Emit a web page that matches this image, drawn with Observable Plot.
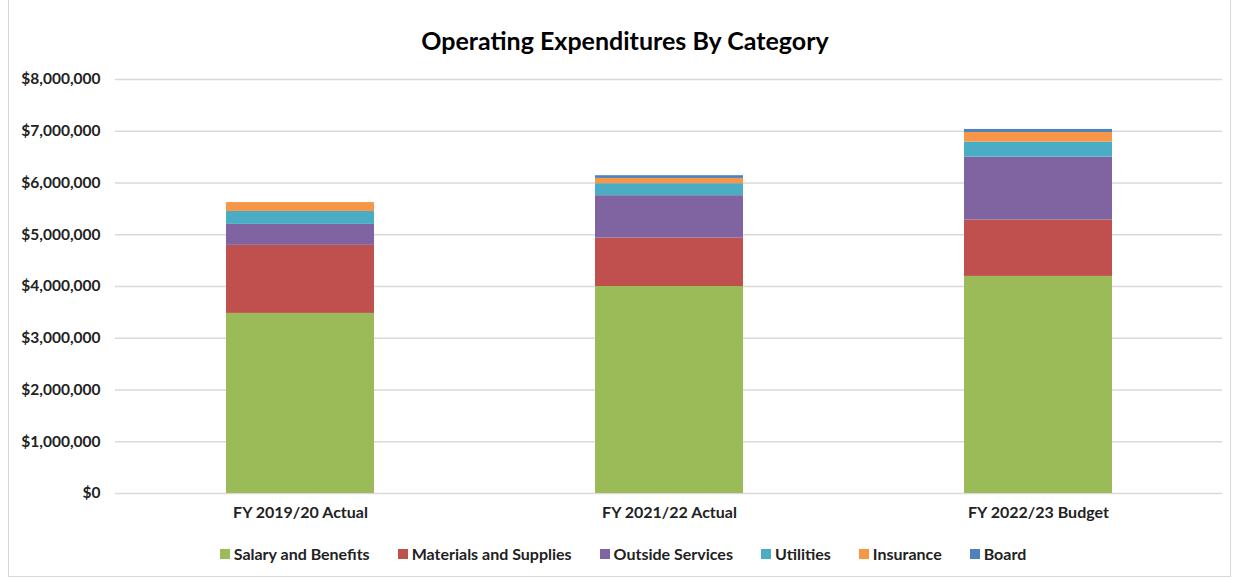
<!DOCTYPE html>
<html>
<head>
<meta charset="utf-8">
<script src="https://cdn.jsdelivr.net/npm/d3@7"></script>
<script src="https://cdn.jsdelivr.net/npm/@observablehq/plot@0.6"></script>
<style>
  html, body { margin: 0; padding: 0; background: #fff; }
  body { width: 1238px; height: 579px; position: relative; overflow: hidden; font-family: Lato, "Open Sans", sans-serif; }
  #frame { position: absolute; left: 8px; top: -1px; width: 1223px; height: 578px; border: 1px solid #d9d9d9; box-sizing: border-box; }
  #title { position: absolute; left: 0; width: 1250px; top: 23px; text-align: center; font-size: 25px; font-weight: bold; color: #000; line-height: 34px; }
  #chart { position: absolute; left: 0; top: 60px; }
  #legend { position: absolute; left: 0; width: 1246px; top: 544px; display: flex; justify-content: center; gap: 28px; font-size: 16px; font-weight: bold; color: #222; }
  #legend span.item { display: flex; align-items: center; }
  #legend span.sw { display: inline-block; width: 10px; height: 10px; margin-right: 4px; }
  svg text { font-family: Lato, "Open Sans", sans-serif; }
</style>
</head>
<body>
<div id="frame"></div>
<div id="title">Operating Expenditures By Category</div>
<div id="chart"></div>
<div id="legend"></div>
<script>
const categories = ["FY 2019/20 Actual", "FY 2021/22 Actual", "FY 2022/23 Budget"];
const seriesNames = ["Salary and Benefits", "Materials and Supplies", "Outside Services", "Utilities", "Insurance", "Board"];
const seriesColors = ["#9BBB59", "#C0504D", "#8064A2", "#4BACC6", "#F79646", "#4F81BD"];
const salaryAndBenefits = [3480000, 4000000, 4195000];
const materialsAndSupplies = [1315000, 935000, 1090000];
const outsideServices = [405000, 820000, 1215000];
const utilities = [250000, 232000, 290000];
const insurance = [172000, 102000, 187000];
const board = [0, 52000, 58000];
const yTicks = [0, 1000000, 2000000, 3000000, 4000000, 5000000, 6000000, 7000000, 8000000];

const seriesValues = [salaryAndBenefits, materialsAndSupplies, outsideServices, utilities, insurance, board];
const data = [];
seriesNames.forEach((s, i) => {
  categories.forEach((c, j) => {
    data.push({category: c, series: s, value: seriesValues[i][j]});
  });
});

const chart = Plot.plot({
  width: 1238,
  height: 470,
  marginLeft: 115,
  marginRight: 16,
  marginTop: 19,
  marginBottom: 37,
  style: {fontSize: "16px", fontWeight: "bold", color: "#222", background: "transparent"},
  x: {domain: categories, paddingInner: 0.6, paddingOuter: 0.3, label: null, tickSize: 0, tickPadding: 13},
  y: {domain: [0, 8000000], ticks: yTicks, tickFormat: d3.format("$,"), label: null, tickSize: 0, tickPadding: 15},
  color: {domain: seriesNames, range: seriesColors},
  marks: [
    Plot.gridY(yTicks, {stroke: "#d9d9d9", strokeOpacity: 1, strokeWidth: 1.5}),
    Plot.barY(data, {x: "category", y: "value", fill: "series", order: seriesNames}),
    Plot.axisY({ticks: yTicks, tickFormat: d3.format("$,"), tickSize: 0, tickPadding: 15, label: null, fontSize: "15.5px"}),
    Plot.axisX({tickSize: 0, tickPadding: 13, label: null, fontSize: "16px"})
  ]
});
document.getElementById("chart").appendChild(chart);

const legend = document.getElementById("legend");
seriesNames.forEach((s, i) => {
  const item = document.createElement("span");
  item.className = "item";
  const sw = document.createElement("span");
  sw.className = "sw";
  sw.style.background = seriesColors[i];
  item.appendChild(sw);
  item.appendChild(document.createTextNode(s));
  legend.appendChild(item);
});
</script>
</body>
</html>
